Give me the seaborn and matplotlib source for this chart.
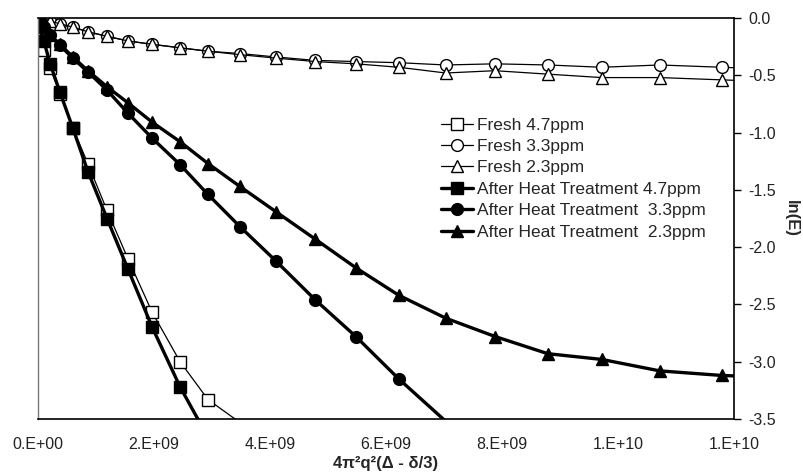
"""
Diffusion decay plot: ln(E) against 4pi^2 q^2 (Delta - delta/3),
fresh samples vs samples after heat treatment.
"""
import numpy as np
import pandas as pd
import matplotlib.pyplot as plt
import seaborn as sns

sns.set_theme(style="white")
plt.rcParams["font.family"] = ["Liberation Sans", "DejaVu Sans"]

# Gradient axis values (units of 1e9), shared by all series
q_axis = [0.0, 0.03, 0.10, 0.21, 0.38, 0.60, 0.86, 1.19, 1.55, 1.97, 2.45, 2.93,
          3.48, 4.10, 4.78, 5.48, 6.22, 7.03, 7.88, 8.79, 9.72, 10.72, 11.79, 12.90]

# ln(E)
fresh_47 = [0.0, -0.12, -0.28, -0.44, -0.66, -0.96, -1.27, -1.68, -2.10, -2.57,
            -3.00, -3.33, -3.53]
fresh_33 = [0.0, -0.01, -0.02, -0.03, -0.05, -0.08, -0.12, -0.16, -0.20, -0.23,
            -0.26, -0.29, -0.31, -0.34, -0.37, -0.38, -0.39, -0.41, -0.40, -0.41,
            -0.43, -0.41, -0.43, -0.45]
fresh_23 = [0.0, -0.01, -0.02, -0.03, -0.05, -0.08, -0.12, -0.16, -0.20, -0.23,
            -0.26, -0.29, -0.32, -0.35, -0.38, -0.40, -0.43, -0.48, -0.46, -0.49,
            -0.52, -0.52, -0.54, -0.56]
heat_47 = [0.0, -0.08, -0.20, -0.40, -0.65, -0.96, -1.34, -1.75, -2.19, -2.70,
           -3.22, -3.66]
heat_33 = [0.0, -0.03, -0.08, -0.15, -0.24, -0.35, -0.47, -0.63, -0.83, -1.05,
           -1.28, -1.54, -1.82, -2.12, -2.46, -2.78, -3.15, -3.52]
heat_23 = [0.0, -0.03, -0.08, -0.15, -0.23, -0.34, -0.46, -0.60, -0.74, -0.91,
           -1.08, -1.27, -1.47, -1.69, -1.93, -2.18, -2.42, -2.62, -2.78, -2.93,
           -2.98, -3.08, -3.12, -3.14]

series_names = ["Fresh 4.7ppm", "Fresh 3.3ppm", "Fresh 2.3ppm",
                "After Heat Treatment 4.7ppm", "After Heat Treatment  3.3ppm",
                "After Heat Treatment  2.3ppm"]
series_values = [fresh_47, fresh_33, fresh_23, heat_47, heat_33, heat_23]
series_markers = ["s", "o", "^", "s", "o", "^"]

x_ticks = [0, 2e9, 4e9, 6e9, 8e9, 1.0e10, 1.2e10]
x_tick_labels = ["0.E+00", "2.E+09", "4.E+09", "6.E+09", "8.E+09", "1.E+10", "1.E+10"]
y_ticks = [0.0, -0.5, -1.0, -1.5, -2.0, -2.5, -3.0, -3.5]
x_max, y_min = 1.2e10, -3.5

fig = plt.figure(figsize=(8.04, 4.74), dpi=100)
ax = fig.add_axes([38 / 804, 1 - 419 / 474, (734 - 38) / 804, (419 - 18) / 474])

for name, vals, mk in zip(series_names, series_values, series_markers):
    xs = np.array(q_axis[:len(vals)]) * 1e9
    df = pd.DataFrame({"x": xs, "y": vals})
    fresh = name.startswith("Fresh")
    # like Excel: no markers for points outside the plot range
    shown = [i for i, (a, b) in enumerate(zip(xs, vals)) if a <= x_max and b >= y_min]
    sns.lineplot(
        data=df, x="x", y="y", ax=ax, label=name, color="black",
        linewidth=0.9 if fresh else 2.4,
        marker=mk, markersize=8.5 if mk != "^" else 9, markevery=shown,
        markerfacecolor="white" if fresh else "black",
        markeredgecolor="black", markeredgewidth=1.0,
    )

ax.set_xlim(0, x_max)
ax.set_ylim(y_min, 0)
ax.set_xticks(x_ticks)
ax.set_xticklabels(x_tick_labels)
ax.set_yticks(y_ticks)
ax.set_yticklabels([f"{v:.1f}" for v in y_ticks])

# y axis on the right, Excel style
ax.yaxis.tick_right()
ax.yaxis.set_label_position("right")
ax.tick_params(axis="both", direction="out", length=5, width=1, color="black",
               labelsize=11.5, labelcolor="#222222")
ax.tick_params(axis="y", pad=5)
ax.tick_params(axis="x", pad=8)

for side in ["top", "right", "bottom"]:
    ax.spines[side].set_color("black")
    ax.spines[side].set_linewidth(1.2)
ax.spines["left"].set_color("#777777")
ax.spines["left"].set_linewidth(1.0)

ax.set_xlabel("4π²q²(Δ - δ/3)", fontsize=12, fontweight="bold", labelpad=3)
ax.set_ylabel("ln(E)", fontsize=12, fontweight="bold", rotation=270, labelpad=17)

ax.legend(loc="upper left", bbox_to_anchor=(0.579, 0.752), frameon=False,
          fontsize=12.5, handlelength=1.85, handletextpad=0.25, labelspacing=0.36,
          borderpad=0, borderaxespad=0)

fig.savefig("out.png", dpi=100)
